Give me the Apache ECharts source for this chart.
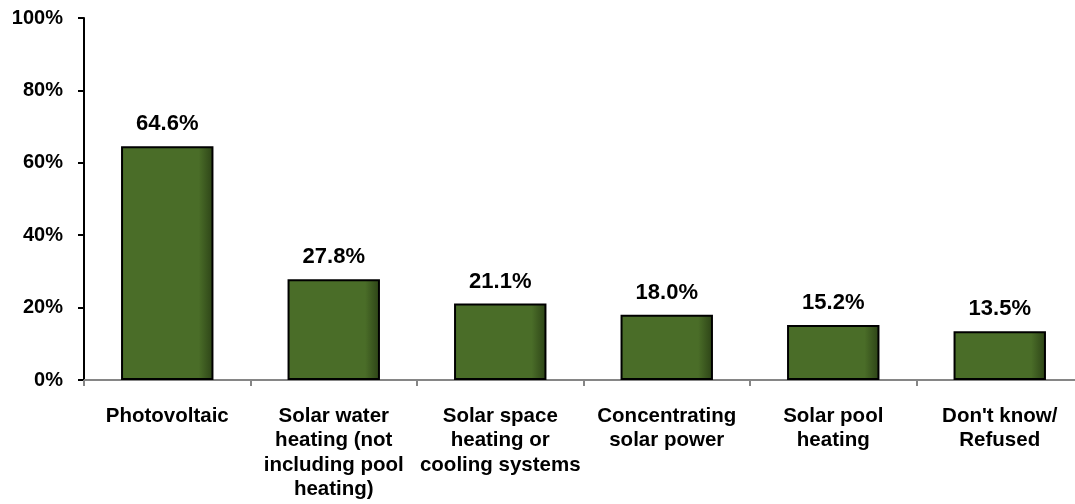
<!DOCTYPE html>
<html><head><meta charset="utf-8">
<script src="https://cdn.jsdelivr.net/npm/echarts@6/dist/echarts.min.js"></script>
<style>html,body{margin:0;padding:0;background:#fff}#c{width:1075px;height:504px}</style>
</head><body><div id="c"></div>
<script>
const categories = ["Photovoltaic", "Solar water\nheating (not\nincluding pool\nheating)", "Solar space\nheating or\ncooling systems", "Concentrating\nsolar power", "Solar pool\nheating", "Don't know/\nRefused"];
const values = [64.6, 27.8, 21.1, 18.0, 15.2, 13.5];
const yTicks = [0, 20, 40, 60, 80, 100];

const chart = echarts.init(document.getElementById('c'));
chart.setOption({
  animation: false,
  textStyle: {fontFamily: '"Liberation Sans", Arial, sans-serif'},
  grid: {left: 84, width: 999, top: 18, height: 362, containLabel: false, outerBoundsMode: 'none'},
  xAxis: {
    type: 'category', data: categories,
    axisLine: {lineStyle: {color: '#868686', width: 2}},
    axisTick: {show: true, length: 6, lineStyle: {color: '#868686', width: 2}},
    axisLabel: {interval: 0, color: '#000', fontWeight: 'bold', fontSize: 20.5, lineHeight: 24.5, margin: 24, align: 'center'}
  },
  yAxis: {
    type: 'value', min: yTicks[0], max: yTicks[yTicks.length - 1], interval: 20,
    splitLine: {show: false},
    axisLine: {show: true, lineStyle: {color: '#000', width: 2}},
    axisTick: {show: true, length: 6, lineStyle: {color: '#000', width: 2}},
    axisLabel: {color: '#000', fontWeight: 'bold', fontSize: 20, margin: 21, formatter: v => v + '%'}
  },
  series: [{
    type: 'bar', data: values, barCategoryGap: '44.5%',
    itemStyle: {
      borderColor: '#000', borderWidth: 2,
      color: {type: 'linear', x: 0, y: 0, x2: 1, y2: 0, colorStops: [
        {offset: 0, color: '#4a6d28'}, {offset: 0.84, color: '#4a6d28'}, {offset: 1, color: '#2c4216'}]}
    },
    label: {show: true, position: 'top', distance: 11, color: '#000', fontWeight: 'bold', fontSize: 22,
      formatter: p => p.value.toFixed(1) + '%'}
  }]
});
</script></body></html>
